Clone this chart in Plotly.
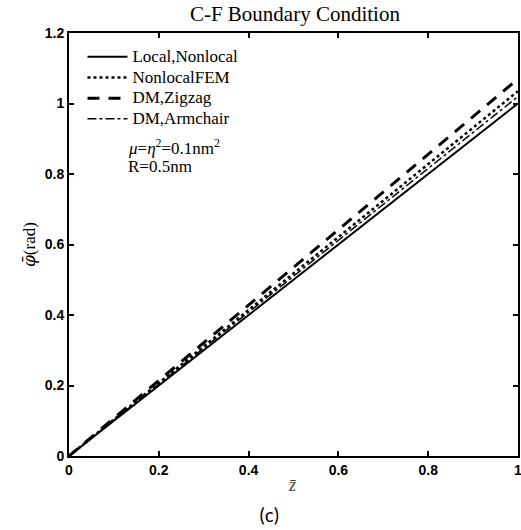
import plotly.graph_objects as go

# values
z_bar = [0.0, 0.1, 0.2, 0.3, 0.4, 0.5, 0.6, 0.7, 0.8, 0.9, 1.0]
local_nonlocal = [0.0, 0.10, 0.20, 0.30, 0.40, 0.50, 0.60, 0.70, 0.80, 0.90, 1.00]
nonlocal_fem = [0.0, 0.104, 0.207, 0.311, 0.414, 0.518, 0.621, 0.725, 0.828, 0.932, 1.035]
dm_zigzag = [0.0, 0.107, 0.214, 0.321, 0.428, 0.535, 0.642, 0.749, 0.856, 0.963, 1.07]
dm_armchair = [0.0, 0.102, 0.204, 0.306, 0.408, 0.51, 0.612, 0.714, 0.816, 0.918, 1.02]

y_ticks = [0, 0.2, 0.4, 0.6, 0.8, 1, 1.2]
y_labels = ["0", "0.2", "0.4", "0.6", "0.8", "1", "1.2"]
x_ticks = [0, 0.2, 0.4, 0.6, 0.8, 1]
x_labels = ["0", "0.2", "0.4", "0.6", "0.8", "1"]

SERIF = "Liberation Serif, Times New Roman, serif"
SANS = "Liberation Sans, Arial, sans-serif"

fig = go.Figure()
series = [
    ("Local,Nonlocal", local_nonlocal, "solid", 2),
    ("NonlocalFEM", nonlocal_fem, "dot", 2.5),
    ("DM,Zigzag", dm_zigzag, "12px,9px", 3),
    ("DM,Armchair", dm_armchair, "dashdot", 1.5),
]
for name, ys, dash, w in series:
    fig.add_trace(go.Scatter(
        x=z_bar, y=ys, mode="lines",
        # bigger text than the legend font keeps the rows tight like the original
        name=f"<span style='font-size:17px'>{name}</span>",
        line=dict(color="black", width=w, dash=dash),
    ))

axis_common = dict(
    showgrid=False, zeroline=False, showline=True, linecolor="black", linewidth=2,
    mirror="ticks", ticks="inside", ticklen=5, tickwidth=1.5, tickcolor="black",
    automargin=False, ticklabeloverflow="allow",
    tickfont=dict(family=SANS, size=14, color="black", weight="bold"),
)

fig.update_layout(
    width=521, height=530,
    paper_bgcolor="white", plot_bgcolor="white",
    margin=dict(l=69, r=3, t=33, b=74),
    title=dict(text="C-F Boundary Condition", x=0.566, xanchor="center", y=0.974, yanchor="middle",
               font=dict(family=SERIF, size=21, color="black")),
    xaxis=dict(range=[0, 1], tickvals=x_ticks, ticktext=x_labels, **axis_common),
    yaxis=dict(range=[0, 1.2], tickvals=y_ticks, ticktext=y_labels, **axis_common),
    legend=dict(x=0.03, y=0.98, xanchor="left", yanchor="top", bgcolor="rgba(0,0,0,0)",
                font=dict(family=SERIF, size=13.6, color="black"), tracegroupgap=0,
                itemwidth=40),
    showlegend=True,
    font=dict(family=SERIF, color="black"),
)

# axis labels
fig.add_annotation(text="<i>z\u0304</i>", xref="paper", yref="paper", x=0.498, y=-0.068,
                   xanchor="center", yanchor="middle", showarrow=False,
                   font=dict(family=SERIF, size=18, color="#444"))
fig.add_annotation(text="<span style='font-family:DejaVu Serif'><i>φ\u0304</i></span>(rad)",
                   xref="paper", yref="paper", x=-0.09, y=0.5,
                   xanchor="center", yanchor="middle", showarrow=False, textangle=-90,
                   font=dict(family=SERIF, size=17, color="black"))

fig.add_annotation(text="<i>μ</i>=<i>η</i><sup>2</sup>=0.1nm<sup>2</sup>", xref="paper", yref="paper",
                   x=0.128, y=0.731, xanchor="left", yanchor="middle", showarrow=False,
                   font=dict(family=SERIF, size=17, color="black"))
fig.add_annotation(text="R=0.5nm", xref="paper", yref="paper",
                   x=0.128, y=0.685, xanchor="left", yanchor="middle", showarrow=False,
                   font=dict(family=SERIF, size=17, color="black"))
fig.add_annotation(text="(c)", xref="paper", yref="paper", x=0.447, y=-0.139,
                   xanchor="center", yanchor="middle", showarrow=False,
                   font=dict(family="Carlito, Calibri, Lato, sans-serif", size=20, color="black"))

fig.write_html("out.html", config={"displayModeBar": False},
               post_script="document.body.style.margin='0';")
